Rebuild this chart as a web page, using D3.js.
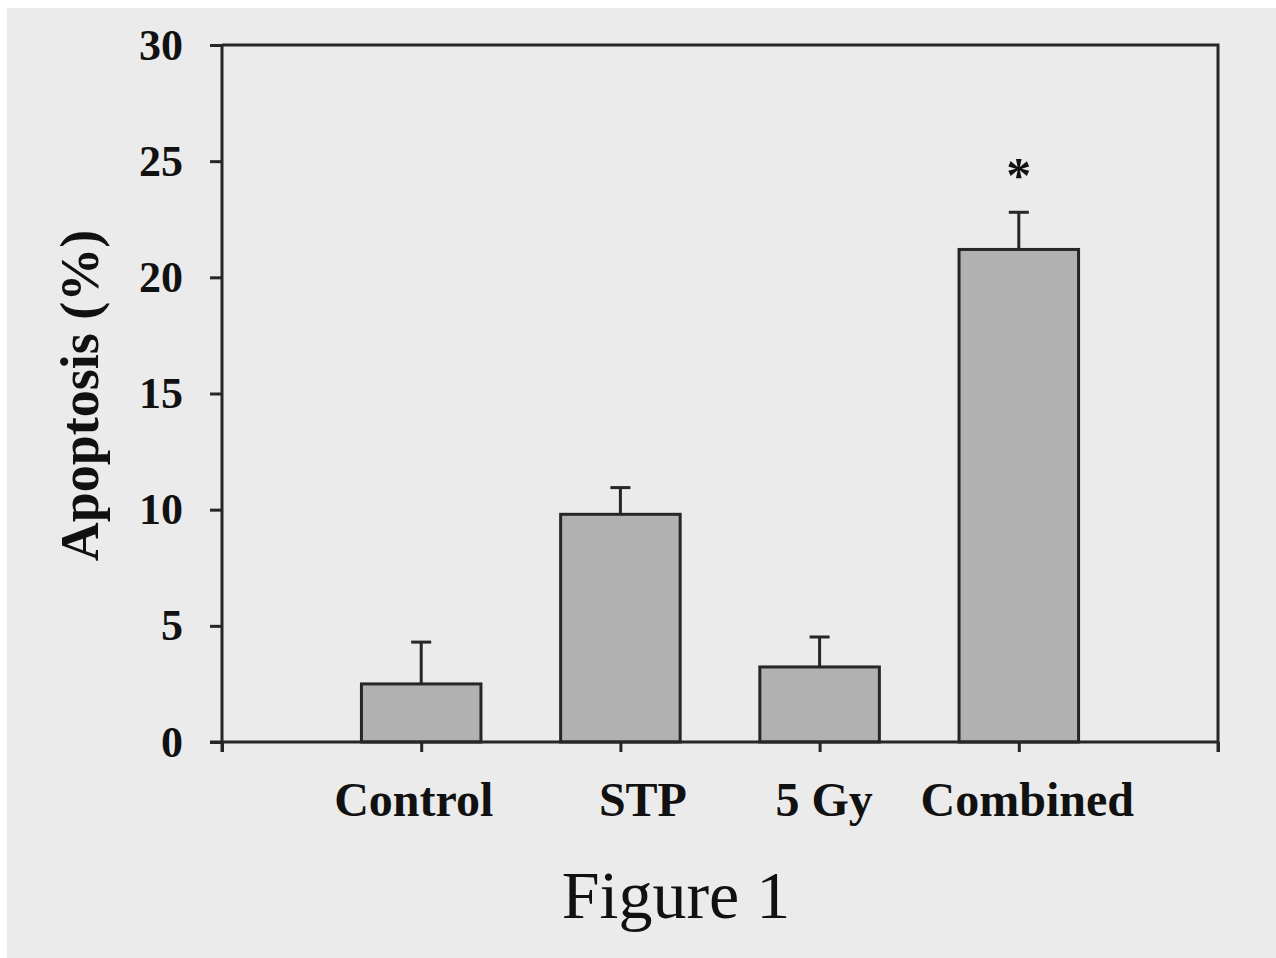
<!DOCTYPE html>
<html>
<head>
<meta charset="utf-8">
<script src="https://cdn.jsdelivr.net/npm/d3@7"></script>
<style>
  body { margin: 0; background: #ffffff; }
  svg { display: block; }
</style>
</head>
<body>
<div id="chart"></div>
<script>
// data
var categories = ["Control", "STP", "5 Gy", "Combined"];
var means = [2.5, 9.8, 3.23, 21.2];
var errTops = [4.3, 10.95, 4.52, 22.8];
var significant = [false, false, false, true];
var yTicks = [0, 5, 10, 15, 20, 25, 30];

var W = 1276, H = 958;
var margin = {top: 45, right: 58, bottom: 216, left: 222},
  width = W - margin.left - margin.right,
  height = H - margin.top - margin.bottom;

var svg = d3.select("#chart")
  .append("svg")
  .attr("width", W)
  .attr("height", H);

// grey panel, white strip at top/left
svg.append("rect")
  .attr("x", 7).attr("y", 8)
  .attr("width", W - 7).attr("height", H - 8)
  .attr("fill", "#ebebeb");

var g = svg.append("g")
  .attr("transform", "translate(" + margin.left + "," + margin.top + ")");

// x: slots 0..5, categories sit on slots 1..4
var x = d3.scaleLinear().domain([0, categories.length + 1]).range([0, width]);
var y = d3.scaleLinear().domain([0, 30]).range([height, 0]);
var slot = x(1) - x(0);
var barW = slot * 0.6;

var ink = "#262626";
var serif = "'Liberation Serif', 'Times New Roman', serif";

// frame (top and right sides)
g.append("path")
  .attr("d", "M0," + y(30) + "H" + width + "V" + (height + 10))
  .attr("fill", "none")
  .attr("stroke", ink)
  .attr("stroke-width", 3);

// bars
g.selectAll("rect.bar")
  .data(means)
  .enter().append("rect")
  .attr("class", "bar")
  .attr("x", function(d, i) { return x(i + 1) - barW / 2; })
  .attr("y", function(d) { return y(d); })
  .attr("width", barW)
  .attr("height", function(d) { return height - y(d); })
  .attr("fill", "#b1b1b1")
  .attr("stroke", ink)
  .attr("stroke-width", 3);

// error bars (upper only)
var eb = g.selectAll("g.err")
  .data(means)
  .enter().append("g")
  .attr("class", "err");
eb.append("line")
  .attr("x1", function(d, i) { return x(i + 1); })
  .attr("x2", function(d, i) { return x(i + 1); })
  .attr("y1", function(d) { return y(d); })
  .attr("y2", function(d, i) { return y(errTops[i]); })
  .attr("stroke", ink).attr("stroke-width", 3);
eb.append("line")
  .attr("x1", function(d, i) { return x(i + 1) - 10; })
  .attr("x2", function(d, i) { return x(i + 1) + 10; })
  .attr("y1", function(d, i) { return y(errTops[i]); })
  .attr("y2", function(d, i) { return y(errTops[i]); })
  .attr("stroke", ink).attr("stroke-width", 3);

// significance star
means.forEach(function(d, i) {
  if (!significant[i]) return;
  g.append("text")
    .attr("x", x(i + 1))
    .attr("y", y(errTops[i]) - 20)
    .attr("text-anchor", "middle")
    .style("font-family", serif)
    .style("font-weight", "bold")
    .style("font-size", "50px")
    .attr("fill", "#111")
    .text("*");
});

// y axis
var yAxis = g.append("g")
  .call(d3.axisLeft(y).tickValues(yTicks).tickSize(12).tickPadding(27).tickSizeOuter(0));
yAxis.select(".domain")
  .attr("d", "M0," + y(30) + "V" + (height + 10))
  .attr("stroke", ink).attr("stroke-width", 3);
yAxis.selectAll(".tick line").attr("stroke", ink).attr("stroke-width", 3);
yAxis.selectAll(".tick text")
  .style("font-family", serif)
  .style("font-weight", "bold")
  .style("font-size", "44px")
  .attr("fill", "#111");

// x axis
var xAxis = g.append("g")
  .attr("transform", "translate(0," + height + ")")
  .call(d3.axisBottom(x)
    .tickValues(d3.range(0, categories.length + 2))
    .tickSize(10)
    .tickSizeOuter(0)
    .tickPadding(30)
    .tickFormat(function(d) { return categories[d - 1] || ""; }));
xAxis.select(".domain")
  .attr("d", "M-12,0H" + width)
  .attr("stroke", ink).attr("stroke-width", 3);
xAxis.selectAll(".tick line").attr("stroke", ink).attr("stroke-width", 3);
// labels in the original sit a little off their ticks
var labelNudge = [0, -8, 22, 4, 8, 0];
xAxis.selectAll(".tick text")
  .attr("dx", function(d) { return labelNudge[d]; })
  .style("font-family", serif)
  .style("font-weight", "bold")
  .style("font-size", "48px")
  .attr("fill", "#111");

// y axis title
svg.append("text")
  .attr("transform", "translate(98," + (margin.top + y(15) + 2) + ") rotate(-90)")
  .attr("text-anchor", "middle")
  .style("font-family", serif)
  .style("font-weight", "bold")
  .style("font-size", "54px")
  .attr("fill", "#111")
  .text("Apoptosis (%)");

// caption
svg.append("text")
  .attr("x", 676)
  .attr("y", 918)
  .attr("text-anchor", "middle")
  .style("font-family", serif)
  .style("font-size", "68px")
  .attr("fill", "#111")
  .text("Figure 1");
</script>
</body>
</html>
